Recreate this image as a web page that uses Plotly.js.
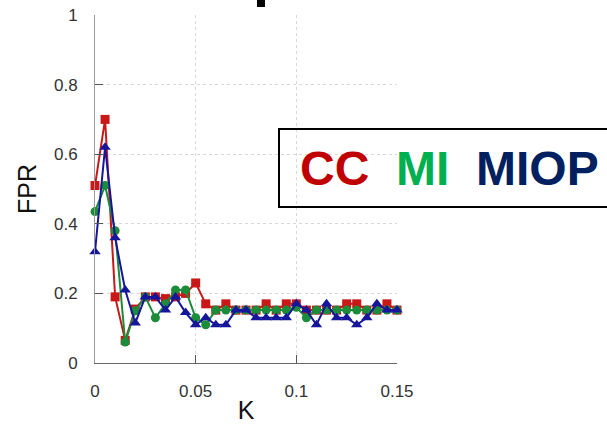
<!DOCTYPE html>
<html>
<head>
<meta charset="utf-8">
<script src="https://cdn.plot.ly/plotly-3.0.1.min.js"></script>
<style>
  html, body { margin: 0; padding: 0; background: #fff; }
  #chart { width: 607px; height: 424px; }
</style>
</head>
<body>
<div id="chart"></div>
<script>
// Threshold K values (x axis)
const K = [0, 0.005, 0.01, 0.015, 0.02, 0.025, 0.03, 0.035, 0.04, 0.045,
           0.05, 0.055, 0.06, 0.065, 0.07, 0.075, 0.08, 0.085, 0.09, 0.095,
           0.1, 0.105, 0.11, 0.115, 0.12, 0.125, 0.13, 0.135, 0.14, 0.145, 0.15];

// False positive rate for each method
const CC = [0.51, 0.70, 0.19, 0.065, 0.155, 0.19, 0.19, 0.185, 0.19, 0.20,
            0.23, 0.17, 0.152, 0.17, 0.152, 0.152, 0.152, 0.17, 0.152, 0.17,
            0.17, 0.152, 0.152, 0.152, 0.152, 0.17, 0.17, 0.152, 0.152, 0.17, 0.152];
const MI = [0.435, 0.51, 0.38, 0.06, 0.15, 0.19, 0.13, 0.17, 0.21, 0.21,
            0.13, 0.11, 0.152, 0.152, 0.152, 0.152, 0.152, 0.152, 0.152, 0.152,
            0.16, 0.13, 0.152, 0.152, 0.152, 0.152, 0.152, 0.152, 0.152, 0.152, 0.152];
const MIOP = [0.32, 0.62, 0.36, 0.21, 0.115, 0.19, 0.19, 0.152, 0.19, 0.145,
              0.11, 0.13, 0.11, 0.11, 0.152, 0.152, 0.13, 0.13, 0.13, 0.13,
              0.17, 0.152, 0.11, 0.17, 0.13, 0.13, 0.11, 0.13, 0.17, 0.152, 0.152];

const seriesNames = ['CC', 'MI', 'MIOP'];
const seriesValues = [CC, MI, MIOP];
const markerSymbols = ['square', 'circle', 'triangle-up'];
const lineColors = ['#c81818', '#1a8c3a', '#16169a'];
const labelColors = ['#c00000', '#00b050', '#002060'];

const xTicks = [0, 0.05, 0.1, 0.15];
const xTickText = ['0', '0.05', '0.1', '0.15'];
const yTicks = [0, 0.2, 0.4, 0.6, 0.8, 1];
const yTickText = ['0', '0.2', '0.4', '0.6', '0.8', '1'];

const traces = seriesNames.map((name, i) => ({
  type: 'scatter',
  mode: 'lines+markers',
  name: name,
  x: K,
  y: seriesValues[i],
  line: { color: lineColors[i], width: 2 },
  marker: { symbol: markerSymbols[i], size: markerSymbols[i] === 'triangle-up' ? 10 : 9, color: lineColors[i] },
  cliponaxis: false
}));

// Plot-area geometry in pixels, used to place the label box
const W = 607, H = 424;
const M = { l: 95, r: 210, t: 15, b: 61 };
const pw = W - M.l - M.r, ph = H - M.t - M.b;
const px = v => (v - M.l) / pw;
const py = v => (H - M.b - v) / ph;

// Method names written in their colours inside a framed box
const labelLeft = [301, 397, 477];
const annotations = seriesNames.map((name, i) => ({
  xref: 'paper', yref: 'paper',
  x: px(labelLeft[i] - 3), y: py(168),
  xanchor: 'left', yanchor: 'middle',
  text: '<b>' + name + '</b>',
  showarrow: false,
  font: { family: 'Liberation Sans, Arial, sans-serif', size: 48, color: labelColors[i] }
}));

const layout = {
  width: W, height: H,
  margin: M,
  paper_bgcolor: '#ffffff',
  plot_bgcolor: '#ffffff',
  showlegend: false,
  font: { family: 'Liberation Sans, Arial, sans-serif', color: '#333' },
  xaxis: {
    range: [0, 0.15],
    tickvals: xTicks, ticktext: xTickText,
    ticks: 'inside', ticklen: 8, tickcolor: '#555', tickwidth: 1,
    showline: true, linecolor: '#666', linewidth: 1,
    showgrid: true, gridcolor: '#d8d8d8', griddash: 'dot', gridwidth: 1,
    zeroline: false,
    ticklabelstandoff: 13,
    tickfont: { size: 17, color: '#333' },
    title: { text: 'K', font: { size: 25, color: '#111' }, standoff: 6 },
    mirror: false
  },
  yaxis: {
    range: [0, 1],
    tickvals: yTicks, ticktext: yTickText,
    ticks: 'inside', ticklen: 8, tickcolor: '#555', tickwidth: 1,
    showline: true, linecolor: '#999', linewidth: 1,
    showgrid: true, gridcolor: '#d8d8d8', griddash: 'dot', gridwidth: 1,
    zeroline: false,
    ticklabelstandoff: 13,
    tickfont: { size: 17, color: '#333' },
    title: { text: 'FPR', font: { size: 25, color: '#111' }, standoff: 10 }
  },
  shapes: [
    // frame around the method names
    { type: 'rect', xref: 'paper', yref: 'paper',
      x0: px(279), x1: px(612), y0: py(207), y1: py(129),
      line: { color: '#000', width: 2 }, fillcolor: 'rgba(0,0,0,0)' },
    // small black mark at the top edge
    { type: 'rect', xref: 'paper', yref: 'paper',
      x0: px(257), x1: px(265), y0: py(7), y1: py(-2),
      line: { width: 0 }, fillcolor: '#000' }
  ],
  annotations: annotations
};

Plotly.newPlot('chart', traces, layout, { displayModeBar: false, staticPlot: true });
</script>
</body>
</html>
